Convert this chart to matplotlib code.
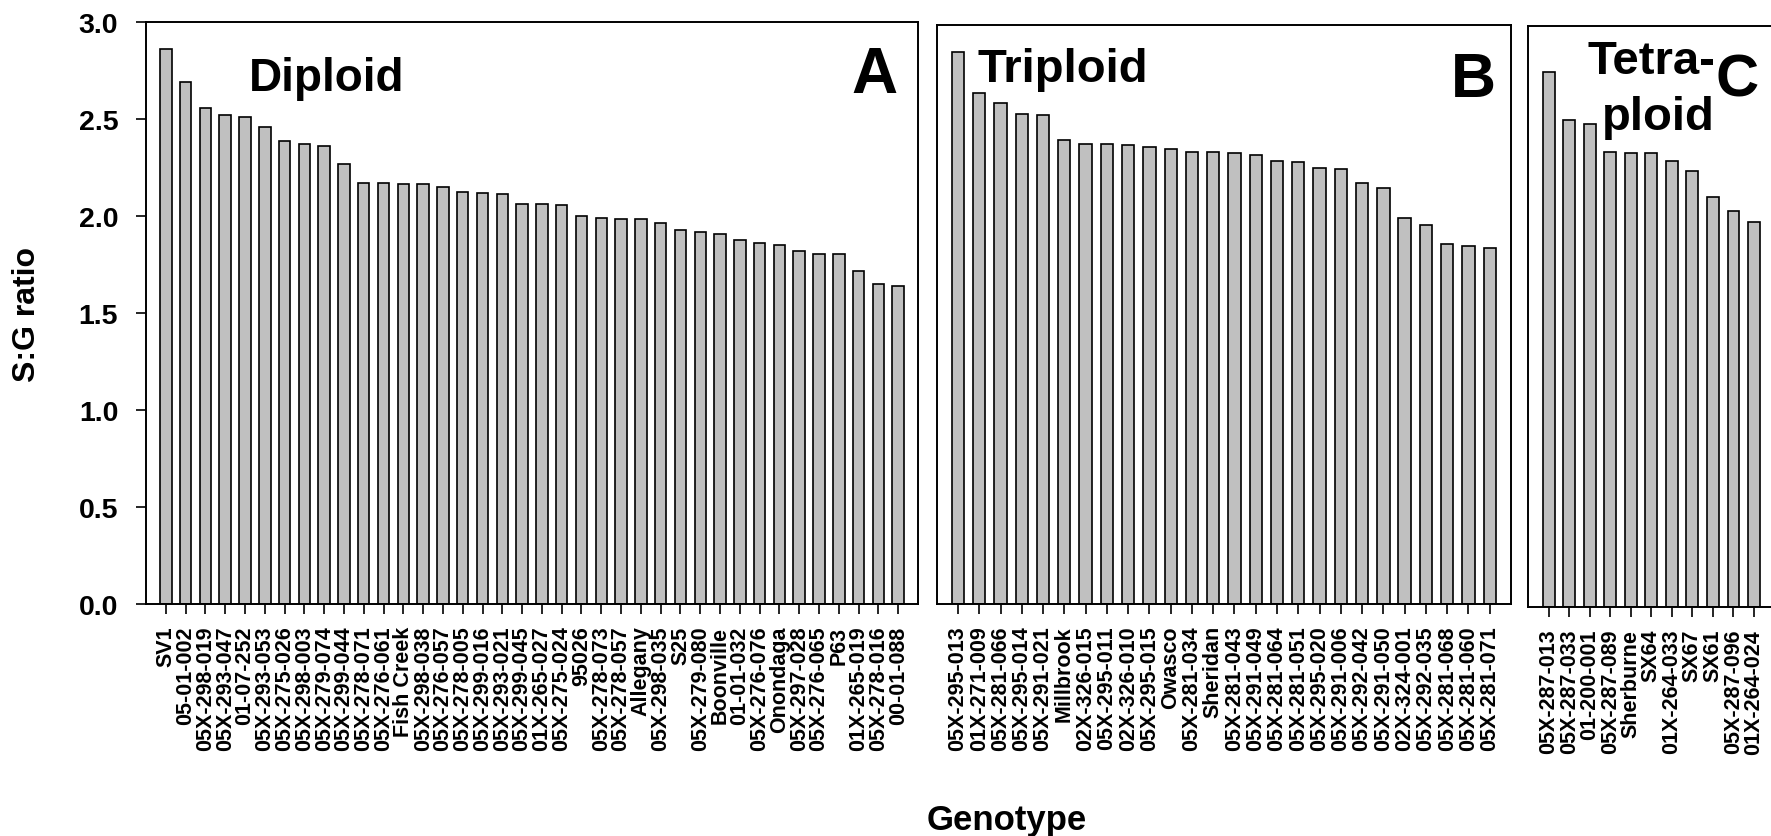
import matplotlib
matplotlib.use("Agg")
import matplotlib.pyplot as plt

plt.rcParams['font.family'] = ['Liberation Sans', 'DejaVu Sans']
plt.rcParams['font.weight'] = 'bold'

# ---------------- data ----------------
diploid_labels = ["SV1", "05-01-002", "05X-298-019", "05X-293-047", "01-07-252", "05X-293-053",
                  "05X-275-026", "05X-298-003", "05X-279-074", "05X-299-044", "05X-278-071",
                  "05X-276-061", "Fish Creek", "05X-298-038", "05X-276-057", "05X-278-005",
                  "05X-299-016", "05X-293-021", "05X-299-045", "01X-265-027", "05X-275-024",
                  "95026", "05X-278-073", "05X-278-057", "Allegany", "05X-298-035", "S25",
                  "05X-279-080", "Boonville", "01-01-032", "05X-276-076", "Onondaga",
                  "05X-297-028", "05X-276-065", "P63", "01X-265-019", "05X-278-016", "00-01-088"]
diploid_values = [2.86, 2.69, 2.56, 2.52, 2.51, 2.46, 2.39, 2.37, 2.36, 2.27, 2.17,
                  2.17, 2.165, 2.165, 2.15, 2.125, 2.12, 2.115, 2.065, 2.063, 2.06,
                  2.003, 1.99, 1.983, 1.983, 1.966, 1.929, 1.921, 1.909, 1.876, 1.862,
                  1.849, 1.82, 1.804, 1.804, 1.716, 1.651, 1.641]

triploid_labels = ["05X-295-013", "01X-271-009", "05X-281-066", "05X-295-014", "05X-291-021",
                   "Millbrook", "02X-326-015", "05X-295-011", "02X-326-010", "05X-295-015",
                   "Owasco", "05X-281-034", "Sheridan", "05X-281-043", "05X-291-049",
                   "05X-281-064", "05X-281-051", "05X-295-020", "05X-291-006", "05X-292-042",
                   "05X-291-050", "02X-324-001", "05X-292-035", "05X-281-068", "05X-281-060",
                   "05X-281-071"]
triploid_values = [2.86, 2.648, 2.594, 2.537, 2.534, 2.404, 2.383, 2.382, 2.378, 2.368,
                   2.358, 2.34, 2.34, 2.335, 2.323, 2.295, 2.287, 2.256, 2.254, 2.18,
                   2.154, 1.998, 1.962, 1.864, 1.855, 1.845]

tetraploid_labels = ["05X-287-013", "05X-287-033", "01-200-001", "05X-287-089", "Sherburne",
                     "SX64", "01X-264-033", "SX67", "SX61", "05X-287-096", "01X-264-024"]
tetraploid_values = [2.76, 2.514, 2.492, 2.348, 2.344, 2.344, 2.303, 2.248, 2.116, 2.045, 1.985]

y_ticks = [0.0, 0.5, 1.0, 1.5, 2.0, 2.5, 3.0]

# ---------------- figure ----------------
W, H = 1771, 837
fig = plt.figure(figsize=(W / 100, H / 100), dpi=100)


def px_axes(left, top, right, bottom):
    return fig.add_axes([left / W, 1 - bottom / H, (right - left) / W, (bottom - top) / H])


axA = px_axes(146, 23.3, 918, 605)
axB = px_axes(936.7, 25.7, 1511, 604.7)
axC = px_axes(1528.3, 26.7, 1774.5, 608.3)

bar_kw = dict(width=0.58, color='#c0c0c0', edgecolor='black', linewidth=1.2)

for ax, labels, vals in [(axA, diploid_labels, diploid_values),
                         (axB, triploid_labels, triploid_values),
                         (axC, tetraploid_labels, tetraploid_values)]:
    x = list(range(len(vals)))
    ax.bar(x, vals, **bar_kw)
    ax.set_xlim(-1, len(vals))
    ax.set_ylim(0, 3.0)
    ax.set_xticks(x)
    ax.set_xticklabels(labels, rotation=90, fontsize=15.5, fontweight='bold')
    ax.tick_params(axis='x', direction='out', length=7, width=1.2, pad=8.5)
    for s in ax.spines.values():
        s.set_linewidth(1.4)
    if ax is axA:
        ax.set_yticks(y_ticks)
        ax.set_yticklabels([f"{t:.1f}" for t in y_ticks], fontsize=20.5, fontweight='bold')
        ax.tick_params(axis='y', direction='out', length=7, width=1.2, pad=13)
    else:
        ax.set_yticks([])


def ftext(x, y, s, **kw):
    fig.text(x / W, 1 - y / H, s, fontweight='bold', **kw)


ftext(249, 90.7, "Diploid", fontsize=33, ha='left', va='baseline')
ftext(874.3, 92.7, "A", fontsize=46, ha='center', va='baseline')
ftext(977, 81.7, "Triploid", fontsize=34, ha='left', va='baseline')
ftext(1473, 96.7, "B", fontsize=45, ha='center', va='baseline')
ftext(1587.7, 74, "Tetra-", fontsize=34, ha='left', va='baseline')
ftext(1602, 130, "ploid", fontsize=34, ha='left', va='baseline')
ftext(1737.3, 96.7, "C", fontsize=43, ha='center', va='baseline')

ftext(27, 315, "S:G ratio", fontsize=23, rotation=90, ha='center', va='center')
ftext(1007, 830, "Genotype", fontsize=25, ha='center', va='baseline')

fig.savefig("out.png", dpi=100)
